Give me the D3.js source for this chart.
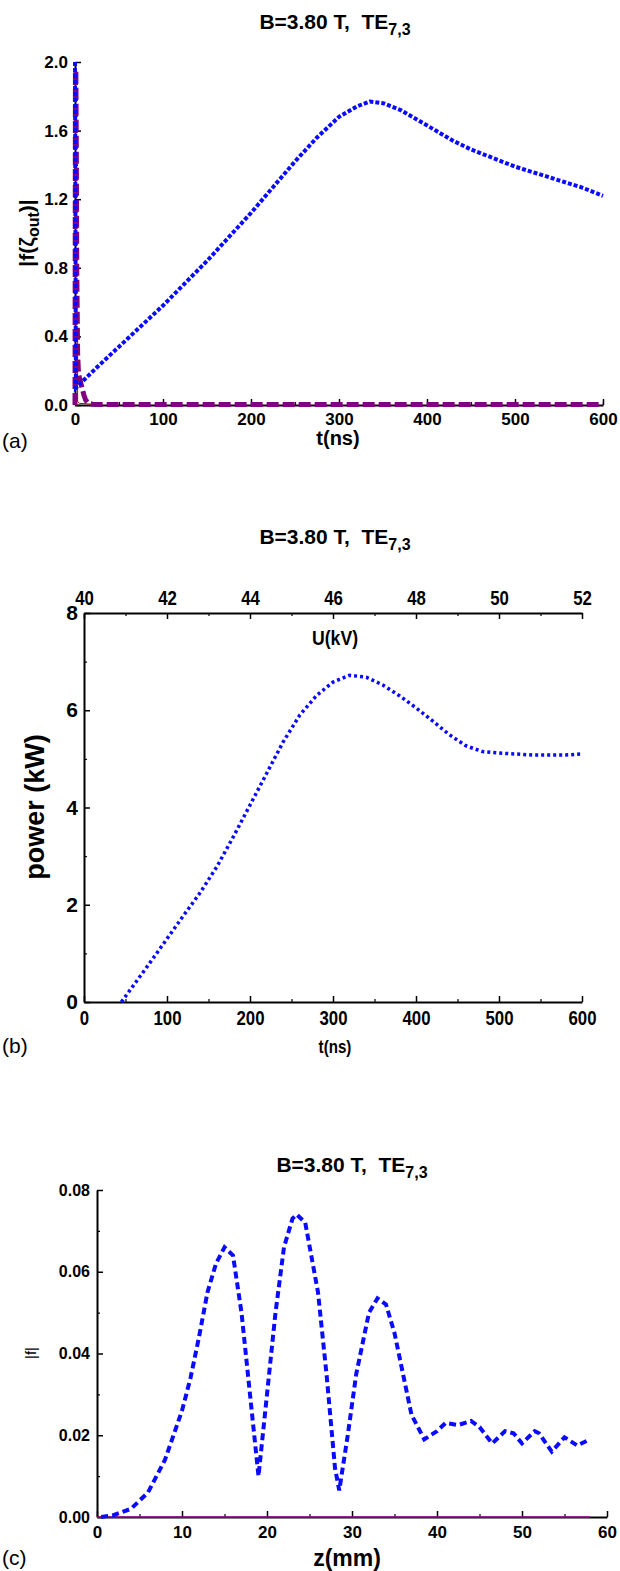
<!DOCTYPE html>
<html>
<head>
<meta charset="utf-8">
<script src="https://cdn.jsdelivr.net/npm/d3@7"></script>
<style>
  body { margin: 0; background: #fff; }
  svg { display: block; }
  text { font-family: "Liberation Sans", Arial, sans-serif; fill: #000; }
</style>
</head>
<body>
<svg width="620" height="1571"></svg>
<script>
// ---- panel (a): |f(zeta_out)| vs t(ns)
const tBlueA = [0, 1, 25, 50, 75, 100, 125, 150, 175, 200, 225, 250, 275, 300, 320, 335, 350, 370, 390, 410, 430, 450, 475, 500, 525, 550, 575, 600];
const fBlueA = [2.0, 0.10, 0.22, 0.34, 0.46, 0.58, 0.71, 0.84, 0.98, 1.12, 1.27, 1.42, 1.56, 1.68, 1.74, 1.77, 1.76, 1.72, 1.66, 1.60, 1.54, 1.49, 1.44, 1.39, 1.35, 1.31, 1.27, 1.22];
const tPurpleA = [0, 0.5, 1, 1.5, 2, 3, 4, 6, 8, 10, 12, 15, 20, 30, 600];
const fPurpleA = [0, 1.95, 1.95, 1.5, 0.8, 0.3, 0.18, 0.14, 0.10, 0.06, 0.03, 0.01, 0.005, 0.003, 0.003];
const tRedA = [3, 3, 5, 18];
const fRedA = [0.45, 0.02, 0.01, 0.005];
const xTicksA = [0, 100, 200, 300, 400, 500, 600];
const yTicksA = [0, 0.4, 0.8, 1.2, 1.6, 2.0];

// ---- panel (b): power (kW) vs t(ns), top axis U(kV)
const tB = [45, 60, 80, 100, 120, 140, 160, 180, 200, 220, 240, 260, 280, 300, 320, 340, 360, 380, 400, 420, 440, 460, 480, 500, 520, 540, 560, 580, 600];
const powerB = [0, 0.35, 0.82, 1.3, 1.78, 2.25, 2.78, 3.4, 4.05, 4.7, 5.35, 5.9, 6.3, 6.58, 6.72, 6.68, 6.52, 6.3, 6.05, 5.78, 5.5, 5.27, 5.15, 5.12, 5.1, 5.08, 5.08, 5.08, 5.1];
const xTicksB = [0, 100, 200, 300, 400, 500, 600];
const uTicksB = [40, 42, 44, 46, 48, 50, 52];
const yTicksB = [0, 2, 4, 6, 8];

// ---- panel (c): |f| vs z(mm)
const zC = [0.5, 2, 4, 6, 8, 10, 11, 12, 13, 14, 15, 16, 17, 18, 19, 20, 21, 22, 23, 23.5, 24.5, 26, 27, 28, 28.5, 29.5, 30.5, 32, 33, 34, 35, 36, 37, 38.5, 40, 41, 42.5, 44, 45, 46.5, 48, 49, 50, 51.5, 52, 53.5, 55, 56.5, 58];
const fC = [0, 0.0005, 0.002, 0.006, 0.014, 0.026, 0.034, 0.044, 0.055, 0.062, 0.066, 0.064, 0.05, 0.03, 0.010, 0.03, 0.05, 0.066, 0.073, 0.074, 0.072, 0.055, 0.035, 0.012, 0.0065, 0.02, 0.035, 0.05, 0.0535, 0.052, 0.045, 0.035, 0.025, 0.019, 0.021, 0.023, 0.0225, 0.0235, 0.022, 0.018, 0.021, 0.0205, 0.018, 0.021, 0.0205, 0.016, 0.0195, 0.0175, 0.019];
const zZeroC = [0, 58];
const fZeroC = [0, 0];
const xTicksC = [0, 10, 20, 30, 40, 50, 60];
const yTicksC = [0, 0.02, 0.04, 0.06, 0.08];

const svg = d3.select("svg");

// axis helper: major ticks with labels + minor ticks, ticks pointing inward
function drawAxis(g, axisFn, scale, majors, minors, fmt, cls, size, pad) {
  const a = g.append("g").call(axisFn(scale).tickValues(majors).tickSize(-6).tickSizeOuter(0).tickPadding(pad).tickFormat(fmt));
  a.select(".domain").attr("stroke", "#000").attr("stroke-width", 2);
  a.selectAll(".tick line").attr("stroke", "#000").attr("stroke-width", 1.5);
  a.selectAll("text").attr("class", cls).attr("font-size", size).attr("font-weight", "bold").attr("font-family", null);
  const m = g.append("g").call(axisFn(scale).tickValues(minors).tickSize(-3).tickFormat(""));
  m.select(".domain").remove();
  m.selectAll(".tick line").attr("stroke", "#000").attr("stroke-width", 1.2);
  return a;
}

function title(x, y) {
  const t = svg.append("text").attr("x", x).attr("y", y).attr("text-anchor", "middle")
    .attr("font-size", 21).attr("font-weight", "bold");
  t.append("tspan").text("B=3.80 T,\u00a0\u00a0TE");
  t.append("tspan").attr("dy", 6).attr("font-size", 16).text("7,3");
}

const line = (xs, ys) => d3.line().x(d => xs(d[0])).y(d => ys(d[1]));

// ================= (a)
{
  const x = d3.scaleLinear().domain([0, 600]).range([75, 603]);
  const y = d3.scaleLinear().domain([0, 2.0]).range([405, 62]);
  const g = svg.append("g");
  drawAxis(g.append("g").attr("transform", "translate(0,405)"), d3.axisBottom, x, xTicksA, d3.range(50, 600, 100), d3.format("d"), "", 17, 8);
  drawAxis(g.append("g").attr("transform", "translate(75,0)"), d3.axisLeft, y, yTicksA, d3.range(0.2, 2.0, 0.4), d3.format(".1f"), "", 17, 7);

  const l = line(x, y);
  g.append("path").datum(tPurpleA.map((t, i) => [t, fPurpleA[i]])).attr("d", l)
    .attr("fill", "none").attr("stroke", "#800080").attr("stroke-width", 5).attr("stroke-dasharray", "12,4");
  g.append("path").datum(tRedA.map((t, i) => [t, fRedA[i]])).attr("d", l)
    .attr("fill", "none").attr("stroke", "#b00000").attr("stroke-width", 1);
  g.append("path").datum(tBlueA.map((t, i) => [t, fBlueA[i]])).attr("d", l)
    .attr("fill", "none").attr("stroke", "#0a0aff").attr("stroke-width", 4).attr("stroke-dasharray", "4,2");

  title(335, 29);
  g.append("text").attr("x", 338).attr("y", 445).attr("text-anchor", "middle").attr("font-size", 20).attr("font-weight", "bold").text("t(ns)");
  g.append("text").attr("x", 2).attr("y", 448).attr("font-size", 21).text("(a)");
  const yl = g.append("text").attr("transform", "translate(34,233) rotate(-90)").attr("text-anchor", "middle")
    .attr("font-size", 21).attr("font-weight", "bold");
  yl.append("tspan").text("|f(");
  yl.append("tspan").text("\u03b6");
  yl.append("tspan").attr("dy", 5).attr("font-size", 16).text("out");
  yl.append("tspan").attr("dy", -5).text(")|");
}

// ================= (b)
{
  const x = d3.scaleLinear().domain([0, 600]).range([84, 582]);
  const u = d3.scaleLinear().domain([40, 52]).range([84, 582]);
  const y = d3.scaleLinear().domain([0, 8]).range([1002, 613]);
  const g = svg.append("g");
  drawAxis(g.append("g").attr("transform", "translate(0,1002)"), d3.axisBottom, x, xTicksB, d3.range(50, 600, 100), d3.format("d"), "narrow", 20, 9);
  drawAxis(g.append("g").attr("transform", "translate(0,613)"), d3.axisTop, u, uTicksB, d3.range(41, 52, 2), d3.format("d"), "narrow", 20, 8);
  drawAxis(g.append("g").attr("transform", "translate(84,0)"), d3.axisLeft, y, yTicksB, d3.range(1, 8, 2), d3.format("d"), "", 21, 6);

  g.append("path").datum(tB.map((t, i) => [t, powerB[i]])).attr("d", line(x, y))
    .attr("fill", "none").attr("stroke", "#0a0aff").attr("stroke-width", 3.5).attr("stroke-dasharray", "3,3");

  title(335, 544);
  g.append("text").attr("class", "narrow").attr("x", 335).attr("y", 645).attr("text-anchor", "middle").attr("font-size", 21).attr("font-weight", "bold").text("U(kV)");
  g.append("text").attr("class", "narrow").attr("x", 335).attr("y", 1053).attr("text-anchor", "middle").attr("font-size", 18).attr("font-weight", "bold").text("t(ns)");
  g.append("text").attr("x", 2).attr("y", 1053).attr("font-size", 21).text("(b)");
  g.append("text").attr("transform", "translate(44,807) rotate(-90)").attr("text-anchor", "middle")
    .attr("font-size", 27).attr("font-weight", "bold").text("power (kW)");
}

// ================= (c)
{
  const x = d3.scaleLinear().domain([0, 60]).range([97, 607]);
  const y = d3.scaleLinear().domain([0, 0.08]).range([1517, 1190]);
  const g = svg.append("g");
  drawAxis(g.append("g").attr("transform", "translate(0,1517)"), d3.axisBottom, x, xTicksC, d3.range(5, 60, 10), d3.format("d"), "", 17, 9);
  drawAxis(g.append("g").attr("transform", "translate(97,0)"), d3.axisLeft, y, yTicksC, [0.01, 0.03, 0.05, 0.07], d3.format(".2f"), "", 16, 7);

  g.append("path").datum(zZeroC.map((z, i) => [z, fZeroC[i]])).attr("d", line(x, y))
    .attr("fill", "none").attr("stroke", "#a000a0").attr("stroke-width", 1.5);
  g.append("path").datum(zC.map((z, i) => [z, fC[i]])).attr("d", line(x, y))
    .attr("fill", "none").attr("stroke", "#0a0aff").attr("stroke-width", 4).attr("stroke-dasharray", "7,4");

  title(352, 1172);
  g.append("text").attr("x", 347).attr("y", 1566).attr("text-anchor", "middle").attr("font-size", 23).attr("font-weight", "bold").text("z(mm)");
  g.append("text").attr("x", 2).attr("y", 1565).attr("font-size", 21).text("(c)");
  g.append("text").attr("transform", "translate(36,1353) rotate(-90)").attr("text-anchor", "middle")
    .attr("font-size", 15).text("|f|");
}

// condensed look for panel (b) labels
svg.selectAll("text.narrow").each(function () {
  const w = this.getComputedTextLength();
  d3.select(this).attr("textLength", w * 0.84).attr("lengthAdjust", "spacingAndGlyphs");
});
</script>
</body>
</html>
